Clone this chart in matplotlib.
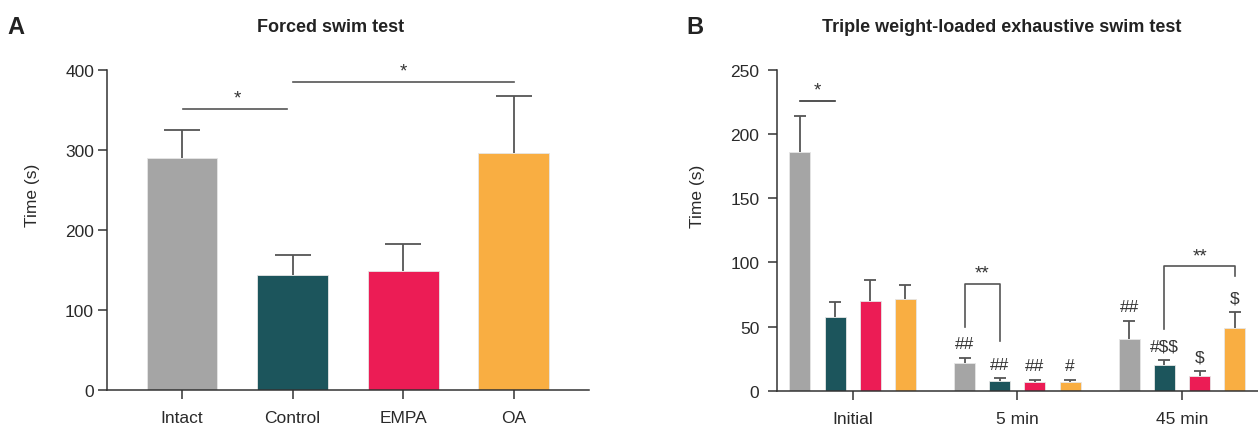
import numpy as np
import matplotlib
matplotlib.use("Agg")
import matplotlib.pyplot as plt

plt.rcParams['font.family'] = ['Liberation Sans', 'DejaVu Sans']
plt.rcParams['text.parse_math'] = False

# panel A data
groups_a = ['Intact', 'Control', 'EMPA', 'OA']
means_a = [290, 144, 149, 296]
err_a = [35, 25, 33, 71]

# panel B data
time_points = ['Initial', '5 min', '45 min']
intact_b = [186, 21.3, 40.3]
intact_err = [27.7, 4.2, 14.0]
control_b = [57.6, 7.5, 20.3]
control_err = [11.4, 2.1, 3.4]
empa_b = [70.1, 6.5, 11.7]
empa_err = [15.9, 2.1, 3.6]
oa_b = [71.2, 6.8, 49.1]
oa_err = [11.1, 1.8, 11.9]
marks_b = [['', '', '', ''],
           ['##', '##', '##', '#'],
           ['##', '#$$', '$', '$']]

colors = ['#a5a5a5', '#1c555c', '#ec1c55', '#f9ae42']
ink = '#333333'
errc = '#555555'

fig = plt.figure(figsize=(12.58, 4.27), dpi=100)
W, H = 1258, 427

def style(ax):
    for s in ['top', 'right']:
        ax.spines[s].set_visible(False)
    for s in ['left', 'bottom']:
        ax.spines[s].set_color(ink)
        ax.spines[s].set_linewidth(1.1)
    ax.tick_params(colors=ink, labelcolor='#2a2a2a', length=6.5, width=1.1, labelsize=12.5)

def upper_err(ax, x, y, e, cap):
    # only the upper whisker and cap, like the reference
    eb = ax.errorbar(x, y, yerr=[np.zeros(len(e)), e], fmt='none', ecolor=errc,
                     elinewidth=1.3, capsize=cap, capthick=1.3, zorder=1)
    eb[1][0].set_visible(False)

# ---- Panel A ----
axA = fig.add_axes([107.3 / W, 36 / H, 481.7 / W, 320.3 / H])
xa = np.arange(len(groups_a))
axA.bar(xa, means_a, width=0.64, color=colors, edgecolor='#e6e6e6', linewidth=0.6, zorder=2)
upper_err(axA, xa, means_a, err_a, 13)
axA.set_xlim(-0.675, 3.68)
axA.set_ylim(0, 400)
axA.set_yticks([0, 100, 200, 300, 400])
axA.set_xticks(xa)
axA.set_xticklabels(groups_a)
style(axA)
axA.tick_params(axis='x', pad=8)
axA.tick_params(axis='y', pad=3)
axA.set_ylabel('Time (s)', fontsize=12.5, color='#2a2a2a')
axA.yaxis.set_label_coords(-0.14, 0.61)

# significance lines A
axA.plot([0.01, 0.95], [351, 351], color=errc, lw=1.2, clip_on=False)
axA.text(0.5, 359, '*', ha='center', va='baseline', fontsize=13.5, color=ink)
axA.plot([1.0, 3.0], [385, 385], color=errc, lw=1.2, clip_on=False)
axA.text(2.0, 393, '*', ha='center', va='baseline', fontsize=13.5, color=ink, clip_on=False)

# ---- Panel B ----
axB = fig.add_axes([776.7 / W, 35.3 / H, 481.3 / W, 321 / H])
xb = np.arange(len(time_points))
series = [intact_b, control_b, empa_b, oa_b]
errs = [intact_err, control_err, empa_err, oa_err]
step = 0.2137
for k in range(4):
    pos = xb + (k - 1.5) * step
    axB.bar(pos, series[k], width=0.1275, color=colors[k], edgecolor='#e6e6e6', linewidth=0.6, zorder=2)
    upper_err(axB, pos, series[k], errs[k], 4.2)
    for g in range(3):
        m = marks_b[g][k]
        if m:
            axB.text(pos[g], series[k][g] + errs[k][g] + 11, m, ha='center', va='center',
                     fontsize=12.5, color=ink)
axB.set_xlim(-0.461, 2.461)
axB.set_ylim(0, 250)
axB.set_yticks([0, 50, 100, 150, 200, 250])
axB.set_xticks(xb)
axB.set_xticklabels(time_points)
style(axB)
axB.tick_params(axis='x', pad=8)
axB.tick_params(axis='y', pad=6)
axB.set_ylabel('Time (s)', fontsize=12.5, color='#2a2a2a')
axB.yaxis.set_label_coords(-0.149, 0.608)

# significance marks B
p0 = 0 - 1.5 * step
axB.plot([p0, p0 + step], [225.6, 225.6], color=ink, lw=1.2)
axB.text(p0 + step / 2, 231, '*', ha='center', va='baseline', fontsize=13.5, color=ink)
g1 = 1 - 1.5 * step
axB.plot([g1, g1, g1 + step, g1 + step], [49.4, 83, 83, 39], color=errc, lw=1.2)
axB.text(g1 + step / 2, 88, '**', ha='center', va='baseline', fontsize=13.5, color=ink)
g2 = 2 - 0.5 * step
axB.plot([g2, g2, g2 + 2 * step, g2 + 2 * step], [48, 97.4, 97.4, 89.6], color=errc, lw=1.2)
axB.text(g2 + step, 101.5, '**', ha='center', va='baseline', fontsize=13.5, color=ink)

# titles and panel letters
fig.text(331 / W, 1 - 27 / H, 'Forced swim test', ha='center', va='center',
         fontsize=13, fontweight='bold', color='#222222')
fig.text(1002 / W, 1 - 27 / H, 'Triple weight-loaded exhaustive swim test', ha='center', va='center',
         fontsize=13, fontweight='bold', color='#222222')
fig.text(16 / W, 1 - 27 / H, 'A', ha='center', va='center', fontsize=17, fontweight='bold', color='#222222')
fig.text(695 / W, 1 - 27 / H, 'B', ha='center', va='center', fontsize=17, fontweight='bold', color='#222222')

fig.savefig('out.png', dpi=100)
